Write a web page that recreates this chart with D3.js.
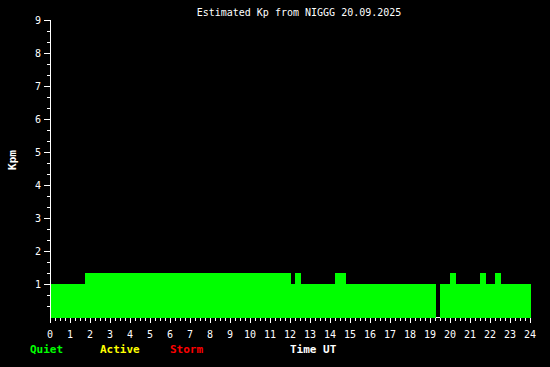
<!DOCTYPE html>
<html>
<head>
<meta charset="utf-8">
<script src="https://cdn.jsdelivr.net/npm/d3@7"></script>
<style>
  html, body { margin: 0; padding: 0; background: #000; }
  svg { display: block; }
  text { font-family: "DejaVu Sans Mono", "Liberation Mono", monospace; font-size: 10px; fill: #fff; }
  .bold { font-size: 11px; font-weight: bold; }
</style>
</head>
<body>
<div id="chart"></div>
<script>
// Data: Kp segments (hour start, hour end, Kp)
const startHours = [0, 1.75, 12.05, 12.25, 12.55, 14.25, 14.8, 19.3, 19.5, 20.0, 20.3, 21.5, 21.8, 22.25, 22.55];
const endHours   = [1.75, 12.05, 12.25, 12.55, 14.25, 14.8, 19.3, 19.5, 20.0, 20.3, 21.5, 21.8, 22.25, 22.55, 24];
const kpValues   = [1, 1.33, 1, 1.33, 1, 1.33, 1, 0, 1, 1.33, 1, 1.33, 1, 1.33, 1];

const xTicks = d3.range(0, 25);
const yTicks = d3.range(1, 10);
const legendLabels = ['Quiet', 'Active', 'Storm'];
const legendColors = ['#00ff00', '#ffff00', '#ff0000'];
const title = 'Estimated Kp from NIGGG 20.09.2025';

const W = 550, H = 367;

const svg = d3.select('#chart')
  .append('svg')
  .attr('width', W)
  .attr('height', H);

svg.append('rect').attr('width', W).attr('height', H).attr('fill', '#000');

// Scales
const x = d3.scaleLinear().domain([0, 24]).range([50, 530]);
const y = d3.scaleLinear().domain([0, 9]).range([317, 20]);

// x axis line (hidden under the bars, only seen in gaps)
svg.append('line')
  .attr('x1', x(0)).attr('x2', x(24) + 1)
  .attr('y1', y(0) + 0.5).attr('y2', y(0) + 0.5)
  .attr('stroke', '#fff')
  .attr('shape-rendering', 'crispEdges');

// Bars
const segs = kpValues.map((v, i) => ({ s: startHours[i], e: endHours[i], kp: v }));
svg.selectAll('.bar')
  .data(segs.filter(d => d.kp > 0))
  .enter()
  .append('rect')
  .attr('class', 'bar')
  .attr('x', d => x(d.s))
  .attr('y', d => y(d.kp))
  .attr('width', d => x(d.e) - x(d.s) + (d.e === 24 ? 1 : 0))
  .attr('height', d => y(0) - y(d.kp) + 1)
  .attr('fill', '#00ff00')
  .attr('shape-rendering', 'crispEdges');

// Axis lines
const axisG = svg.append('g')
  .attr('stroke', '#fff')
  .attr('shape-rendering', 'crispEdges');

axisG.append('line')
  .attr('x1', 50.5).attr('x2', 50.5)
  .attr('y1', y(9)).attr('y2', y(0) + 1);

// x ticks every 15 min
d3.range(0, 24 * 4 + 1).forEach(i => {
  const px = Math.round(x(i / 4)) + 0.5;
  axisG.append('line')
    .attr('x1', px).attr('x2', px)
    .attr('y1', 318).attr('y2', i % 4 === 0 ? 323 : 321);
});

// y ticks every 1/3
d3.range(1, 9 * 3 + 1).forEach(i => {
  const py = Math.round(y(i / 3)) + 0.5;
  axisG.append('line')
    .attr('x1', i % 3 === 0 ? 44 : 47).attr('x2', 50)
    .attr('y1', py).attr('y2', py);
});

// Tick labels
svg.selectAll('.xlab')
  .data(xTicks)
  .enter()
  .append('text')
  .attr('x', d => x(d))
  .attr('y', 338)
  .attr('text-anchor', 'middle')
  .text(d => d);

svg.selectAll('.ylab')
  .data(yTicks)
  .enter()
  .append('text')
  .attr('x', 41)
  .attr('y', d => y(d) + 4)
  .attr('text-anchor', 'end')
  .text(d => d);

// Title
svg.append('text')
  .attr('x', 299)
  .attr('y', 16)
  .attr('text-anchor', 'middle')
  .text(title);

// Y label
svg.append('text')
  .attr('class', 'bold')
  .attr('transform', 'translate(16,160) rotate(-90)')
  .attr('text-anchor', 'middle')
  .text('Kpm');

// Legend
svg.selectAll('.leg')
  .data(legendLabels)
  .enter()
  .append('text')
  .attr('class', 'bold')
  .attr('x', (d, i) => 30 + i * 70)
  .attr('y', 353)
  .style('fill', (d, i) => legendColors[i])
  .text(d => d);

svg.append('text')
  .attr('class', 'bold')
  .attr('x', 290)
  .attr('y', 353)
  .text('Time UT');
</script>
</body>
</html>
